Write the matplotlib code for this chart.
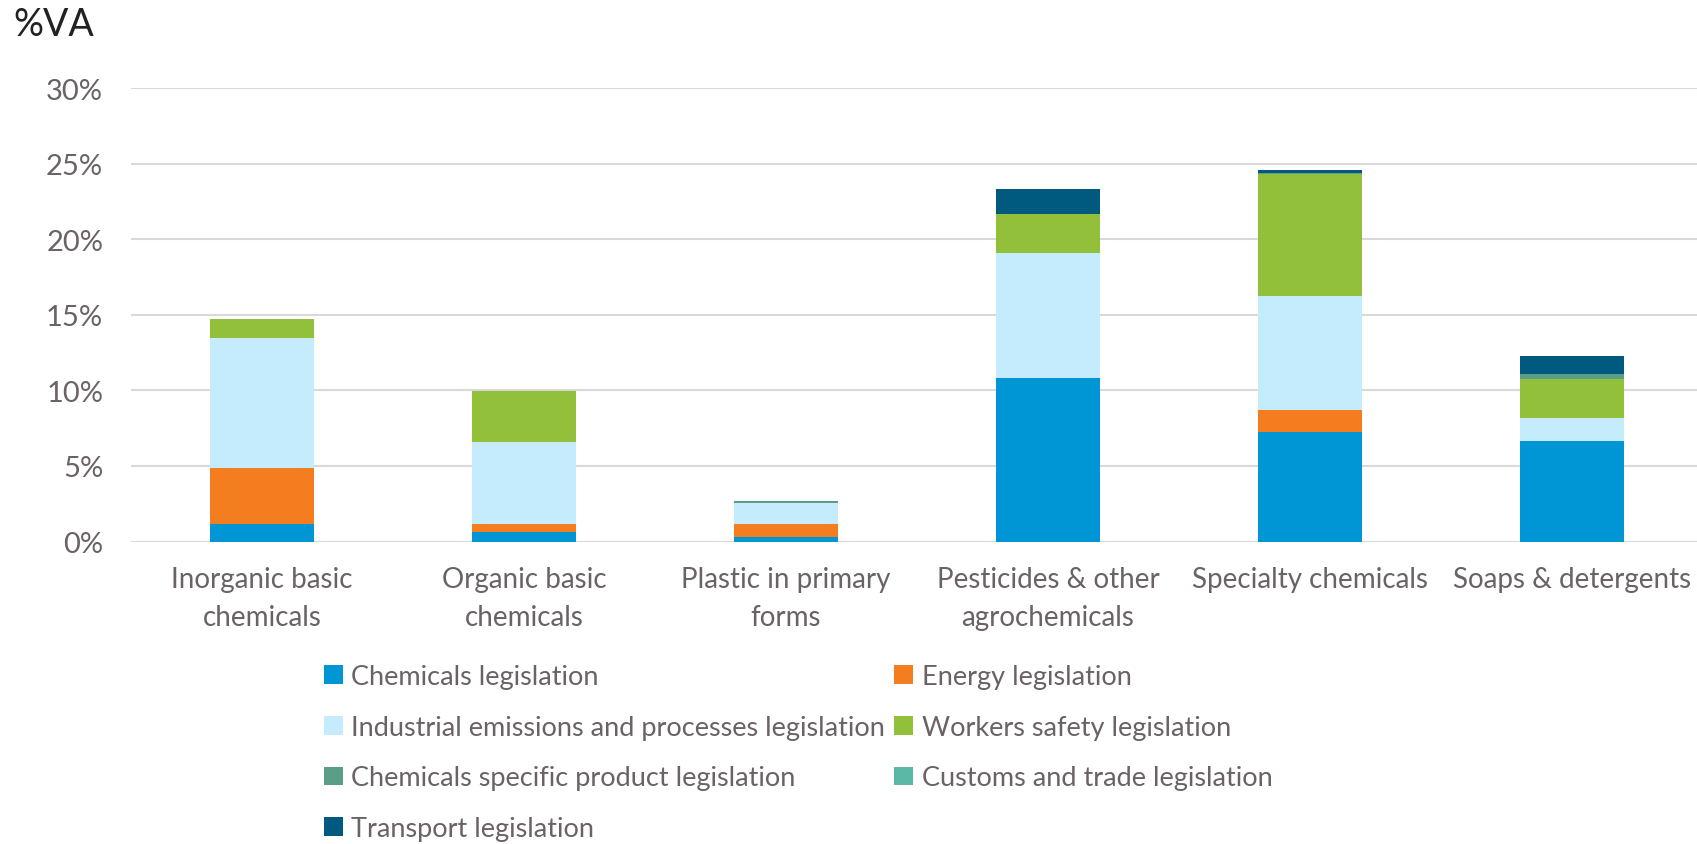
import matplotlib
matplotlib.use("Agg")
import matplotlib.pyplot as plt
import numpy as np
from matplotlib.ticker import FuncFormatter
from matplotlib.patches import Patch

plt.rcParams['font.family'] = ['Lato', 'DejaVu Sans']

categories = ["Inorganic basic\nchemicals", "Organic basic\nchemicals", "Plastic in primary\nforms",
              "Pesticides & other\nagrochemicals", "Specialty chemicals", "Soaps & detergents"]

series_names = ["Chemicals legislation", "Energy legislation",
                "Industrial emissions and processes legislation", "Workers safety legislation",
                "Chemicals specific product legislation", "Customs and trade legislation",
                "Transport legislation"]

chemicals = [1.19, 0.64, 0.33, 10.81, 7.26, 6.64]
energy = [3.64, 0.53, 0.84, 0.0, 1.43, 0.0]
industrial = [8.64, 5.40, 1.37, 8.26, 7.58, 1.56]
workers = [1.24, 3.40, 0.0, 2.60, 8.07, 2.58]
specific_product = [0.0, 0.0, 0.15, 0.0, 0.06, 0.31]
customs = [0.0, 0.0, 0.0, 0.0, 0.0, 0.0]
transport = [0.0, 0.0, 0.0, 1.64, 0.17, 1.19]

series_values = [chemicals, energy, industrial, workers, specific_product, customs, transport]
colors = ["#0096D6", "#F47D20", "#C5ECFD", "#93C03B", "#5A9E87", "#5BB8A6", "#005A80"]

fig = plt.figure(figsize=(16.97, 8.45), dpi=100)
left = 131 / 1697
width = (1703 - 131) / 1697
bottom = 1 - 542.5 / 845
top = 1 - 89 / 845
ax = fig.add_axes([left, bottom, width, top - bottom])

x = np.arange(len(categories))
base = np.zeros(len(categories))
handles = []
for name, vals, col in zip(series_names, series_values, colors):
    v = np.array(vals) / 100.0
    ax.bar(x, v, bottom=base, width=0.4, color=col, edgecolor='none', zorder=3)
    base += v
    handles.append(Patch(facecolor=col, edgecolor='none', label=name))

ax.set_xlim(-0.5, len(categories) - 0.5)
ax.set_ylim(0, 0.30)
ax.set_yticks(np.arange(0, 0.301, 0.05))
ax.yaxis.set_major_formatter(FuncFormatter(lambda v, p: f"{v*100:.0f}%"))
ax.set_xticks(x)
ax.set_xticklabels(categories, linespacing=1.55)
ax.grid(axis='y', color='#D9D9D9', linewidth=1.5, zorder=0)
ax.set_axisbelow(True)
for s in ax.spines.values():
    s.set_visible(False)
ax.tick_params(axis='both', length=0, colors='#6A6264')
ax.tick_params(axis='x', labelsize=20, pad=18)
ax.tick_params(axis='y', labelsize=21, pad=20)

fig.text(13 / 1697, 1 - 25 / 845, "%VA", fontsize=27, color='#222222', va='center', ha='left')

order = [0, 2, 4, 6, 1, 3, 5]
leg = fig.legend([handles[i] for i in order], [series_names[i] for i in order],
                 ncol=2, loc='upper left', bbox_to_anchor=(324 / 1697, 1 - 665 / 845),
                 frameon=False, fontsize=19.5, handlelength=0.7, handleheight=0.7,
                 handletextpad=0.3, columnspacing=0.35, labelspacing=0.95,
                 borderaxespad=0, borderpad=0)
for t in leg.get_texts():
    t.set_color('#6A6264')

fig.savefig("out.png", dpi=100)
